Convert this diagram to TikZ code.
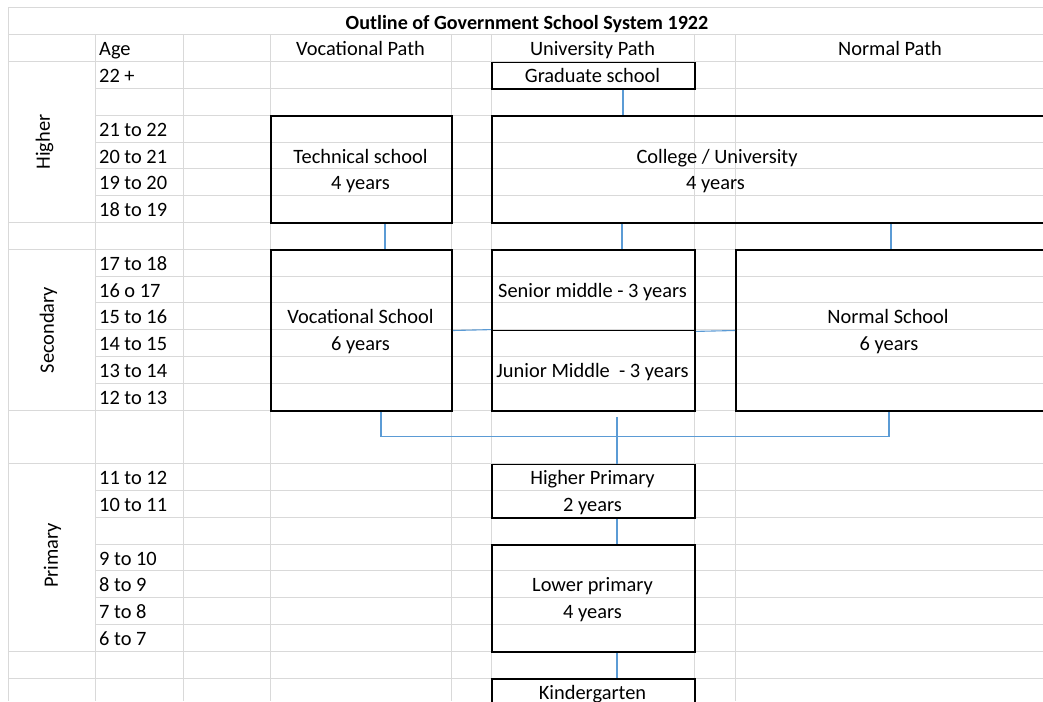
\documentclass[tikz,border=0pt]{standalone}
\usepackage{fontspec}
\setmainfont{Carlito}
\definecolor{gridgray}{HTML}{D9D9D9}
\definecolor{connblue}{HTML}{5B9BD5}
\begin{document}
\begin{tikzpicture}[x=1pt,y=-1pt,
  gridline/.style={draw=gridgray, line width=1pt},
  box/.style={draw=black, line width=1.8pt, inner sep=0pt, anchor=north west},
  conn/.style={draw=connblue, line width=1.1pt},
  txt/.style={font=\fontsize{20.4}{24}\selectfont, inner sep=0pt, anchor=base},
  lab/.style={txt, anchor=base west},
  side/.style={font=\fontsize{20.4}{24}\selectfont, inner sep=0pt, rotate=90, anchor=center},
  ttl/.style={font=\fontsize{20.1}{24}\selectfont\bfseries, inner sep=0pt, anchor=base}]
\useasboundingbox (0,0) rectangle (1043,701);
\clip (0,0) rectangle (1043,701);
\fill[white] (0,0) rectangle (1043,701);
% grid: full-width horizontal lines
\foreach \k in {0,1,2,8,9,15,17,24,25}
  \draw[gridline] (8,{8+26.8*\k}) -- (1043,{8+26.8*\k});
% grid: lines from column B
\foreach \k in {3,4,5,6,7,10,11,12,13,14,18,19,20,21,22,23,26}
  \draw[gridline] (95,{8+26.8*\k}) -- (1043,{8+26.8*\k});
% grid: vertical lines
\draw[gridline] (8,8) -- (8,701);
\foreach \x in {95,183,270,451,491,694,735}
  \draw[gridline] (\x,34.8) -- (\x,701);
% boxes
\node[box, minimum width=203pt, minimum height=26.8pt] (grad) at (491,61.6) {};
\node[box, minimum width=181pt, minimum height=107.2pt] (tech) at (270,115.2) {};
\node[box, minimum width=569pt, minimum height=107.2pt] (coll) at (491,115.2) {};
\node[box, minimum width=181pt, minimum height=160.8pt] (voc) at (270,249.2) {};
\node[box, minimum width=203pt, minimum height=80.4pt] (sen) at (491,249.2) {};
\node[box, minimum width=203pt, minimum height=80.4pt] (jun) at (491,329.6) {};
\node[box, minimum width=325pt, minimum height=160.8pt] (norm) at (735,249.2) {};
\node[box, minimum width=203pt, minimum height=53.6pt] (hp) at (491,463.6) {};
\node[box, minimum width=203pt, minimum height=107.2pt] (lp) at (491,544) {};
\node[box, minimum width=203pt, minimum height=42pt] (kg) at (491,678) {};
% connectors
\draw[conn] (grad.south -| 623,0) -- (coll.north -| 623,0);
\draw[conn] (tech.south -| 385,0) -- (voc.north -| 385,0);
\draw[conn] (coll.south -| 622,0) -- (sen.north -| 622,0);
\draw[conn] (coll.south -| 891,0) -- (norm.north -| 891,0);
\draw[conn] (voc.east) -- (jun.north west);
\draw[conn] (sen.south east) -- (norm.west);
\coordinate (bus) at (381,436.8);
\draw[conn] (voc.south -| bus) -- (bus) -| (norm.south -| 889,0);
\draw[conn] ([yshift=-5pt]jun.south -| 617,0) -- (hp.north -| 617,0);
\draw[conn] (hp.south -| 617,0) -- (lp.north -| 617,0);
\draw[conn] (lp.south -| 617,0) -- (kg.north -| 617,0);
% title and headers
\node[ttl] (title) at (527,29.1) {Outline of Government School System 1922};
\node[lab] (hage) at (99,55.9) {Age};
\node[txt] (hvoc) at (360.5,55.9) {Vocational Path};
\node[txt] (huni) at (592.5,55.9) {University Path};
\node[txt] (hnor) at (890,55.9) {Normal Path};
% side labels
\node[side] (shigher) at (44.5,142) {Higher};
\node[side] (ssec) at (48.5,330) {Secondary};
\node[side] (sprim) at (52.5,555.5) {Primary};
% ages
\node[lab] (a1) at (99,82.7) {22 +};
\node[lab] (a2) at (99,136.3) {21 to 22};
\node[lab] (a3) at (99,163.1) {20 to 21};
\node[lab] (a4) at (99,189.9) {19 to 20};
\node[lab] (a5) at (99,216.7) {18 to 19};
\node[lab] (a6) at (99,270.3) {17 to 18};
\node[lab] (a7) at (99,297.1) {16 o 17};
\node[lab] (a8) at (99,323.9) {15 to 16};
\node[lab] (a9) at (99,350.7) {14 to 15};
\node[lab] (a10) at (99,377.5) {13 to 14};
\node[lab] (a11) at (99,404.3) {12 to 13};
\node[lab] (a12) at (99,484.7) {11 to 12};
\node[lab] (a13) at (99,511.5) {10 to 11};
\node[lab] (a14) at (99,565.1) {9 to 10};
\node[lab] (a15) at (99,591.9) {8 to 9};
\node[lab] (a16) at (99,618.7) {7 to 8};
\node[lab] (a17) at (99,645.5) {6 to 7};
% box texts
\node[txt] (tgrad) at (592.5,82.7) {Graduate school};
\node[txt] (ttech1) at (360.5,163.1) {Technical school};
\node[txt] (ttech2) at (360.5,189.9) {4 years};
\node[txt] (tcoll1) at (717,163.1) {College / University};
\node[txt] (tcoll2) at (715.5,189.9) {4 years};
\node[txt] (tvoc1) at (360.5,323.9) {Vocational School};
\node[txt] (tvoc2) at (360.5,350.7) {6 years};
\node[txt] (tsen) at (592.5,297.1) {Senior middle - 3 years};
\node[txt] (tjun) at (592.5,377.5) {Junior Middle\ \ - 3 years};
\node[txt] (tnor1) at (888,323.9) {Normal School};
\node[txt] (tnor2) at (889,350.7) {6 years};
\node[txt] (thp1) at (592.5,484.7) {Higher Primary};
\node[txt] (thp2) at (592.5,511.5) {2 years};
\node[txt] (tlp1) at (592.5,591.9) {Lower primary};
\node[txt] (tlp2) at (592.5,618.7) {4 years};
\node[txt] (tkg) at (592.5,699.1) {Kindergarten};
\end{tikzpicture}
\end{document}
